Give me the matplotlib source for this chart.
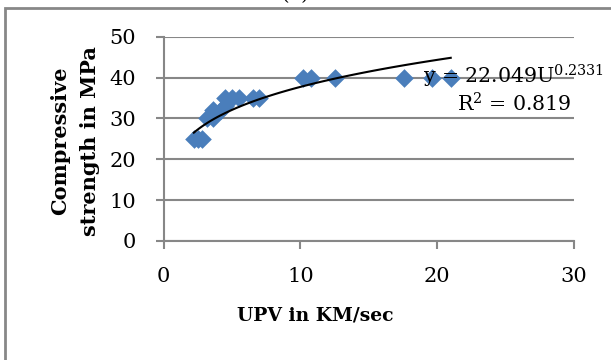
import numpy as np
import matplotlib
matplotlib.use('Agg')
import matplotlib.pyplot as plt
from matplotlib.patches import Rectangle

# dados
upv = [2.2, 2.5, 2.8, 3.2, 3.6, 3.6, 4.2, 4.5, 4.5, 5.0, 5.5, 6.5, 7.0,
       10.2, 10.8, 12.5, 17.6, 19.6, 21.0]
strength = [25, 25, 25, 30, 30, 32, 32, 33, 35, 35, 35, 35, 35,
            40, 40, 40, 40, 40, 40]

# linha de tendência (potência) exibida no gráfico
coef_a = 22.049
coef_b = 0.2331
r2 = 0.819

plt.rcParams['font.family'] = ['DejaVu Serif']
plt.rcParams['mathtext.fontset'] = 'dejavuserif'

grey = '#878787'
blue = '#4A7EBB'

fig = plt.figure(figsize=(6.11, 3.6), dpi=100)
ax = fig.add_axes([0.268, 0.331, 0.671, 0.567])

# moldura do gráfico
fig.patches.append(Rectangle((0.008, -0.1), 1.2, 1.078, transform=fig.transFigure,
                             fill=False, edgecolor=grey, linewidth=2))
fig.text(0.483, 0.989, '(d)', ha='center', va='bottom', fontsize=14)

ax.scatter(upv, strength, marker='D', s=9.5 ** 2, color=blue, linewidths=0, zorder=3)

xt = np.linspace(min(upv), max(upv), 100)
ax.plot(xt, coef_a * xt ** coef_b, color='black', linewidth=1.5, zorder=4)

ax.text(25.6, 40.2, 'y = %.3fU$^{\\mathrm{%.4f}}$' % (coef_a, coef_b),
        ha='center', va='center', fontsize=14.8, zorder=5)
ax.text(25.6, 33.6, 'R$^{\\mathrm{2}}$ = %.3f' % r2, ha='center', va='center',
        fontsize=14.8, zorder=5)

ax.set_xlim(0, 30)
ax.set_ylim(0, 50)
ax.set_xticks([0, 10, 20, 30])
ax.set_yticks([0, 10, 20, 30, 40, 50])
ax.grid(True, axis='y', color=grey, linewidth=1.5, zorder=0)
ax.set_axisbelow(True)
for s in ['top', 'right']:
    ax.spines[s].set_visible(False)
for s in ['left', 'bottom']:
    ax.spines[s].set_color(grey)
    ax.spines[s].set_linewidth(1.5)
ax.tick_params(axis='both', direction='out', length=6, width=1.5, color=grey,
               labelsize=15)
ax.tick_params(axis='y', pad=14)
ax.tick_params(axis='x', pad=13)

ax.set_xlabel('UPV in KM/sec', fontsize=13.5, fontweight='bold')
ax.xaxis.set_label_coords(0.37, -0.32)
ax.set_ylabel('Compressive\nstrength in MPa', fontsize=15, fontweight='bold',
              linespacing=1.6)
ax.yaxis.set_label_coords(-0.155, 0.49)

fig.savefig('out.png', dpi=100)
